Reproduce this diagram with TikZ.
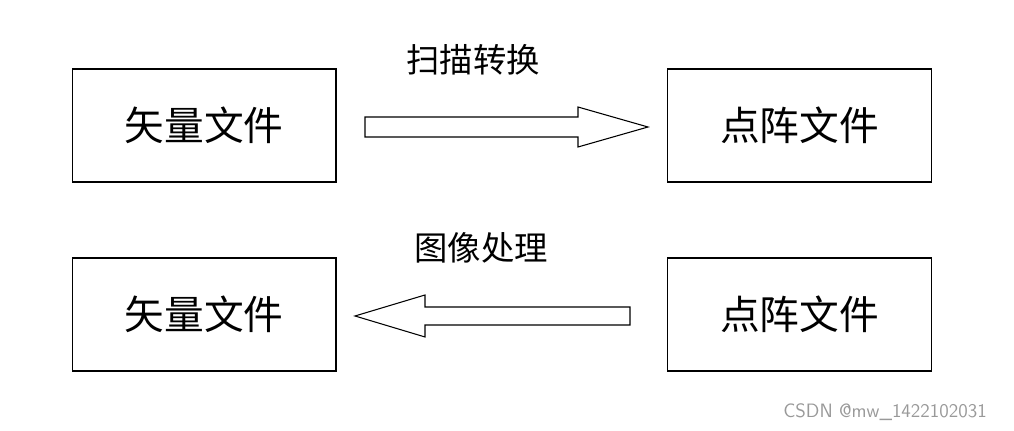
\documentclass[tikz,border=0pt]{standalone}
\usepackage{fontspec}
\newfontfamily\cjk{Noto Sans CJK SC}
\begin{document}
\begin{tikzpicture}[x=0.02cm,y=-0.02cm,
  box/.style={draw=black,line width=0.6pt,minimum width=5.28cm,minimum height=2.26cm,font=\cjk\fontsize{22.6}{26}\selectfont,inner sep=0pt},
  lab/.style={font=\cjk\fontsize{19}{22}\selectfont},
  arr/.style={draw=black,line width=0.6pt,fill=white}]
\useasboundingbox (0,0) rectangle (1014,431);
\node[box] (v1) at (204,125.5) {矢量文件};
\node[box] (d1) at (799.5,125.5) {点阵文件};
\node[box] (v2) at (204,314.5) {矢量文件};
\node[box] (d2) at (799.5,314.5) {点阵文件};
\node[lab] (t1) at (473,60) {扫描转换};
\node[lab] (t2) at (481,248) {图像处理};
\draw[arr] (365,117) -- (578,117) -- (578,107) -- (648,127) -- (578,147) -- (578,137) -- (365,137) -- cycle;
\draw[arr] (630,307) -- (425,307) -- (425,295) -- (355,316) -- (425,337) -- (425,325) -- (630,325) -- cycle;
\node[font=\sffamily\fontsize{11}{13}\selectfont,text=gray!80] (wm) at (885,412) {CSDN @mw\_1422102031};
\end{tikzpicture}
\end{document}
